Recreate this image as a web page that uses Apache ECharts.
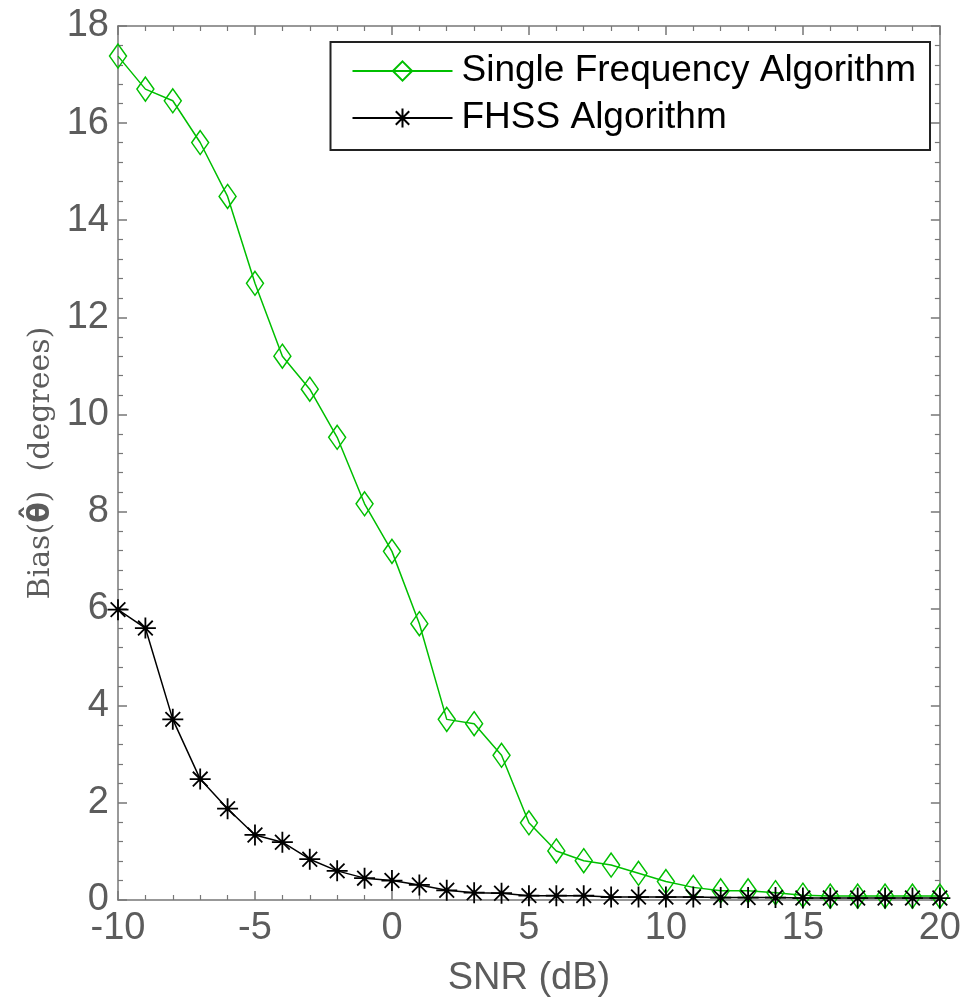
<!DOCTYPE html>
<html>
<head>
<meta charset="utf-8">
<script src="https://cdn.jsdelivr.net/npm/echarts@6/dist/echarts.min.js"></script>
<style>html,body{margin:0;padding:0;background:#fff;}#c{width:964px;height:1003px;}</style>
</head>
<body>
<div id="c"></div>
<script>
const snr = [-10,-9,-8,-7,-6,-5,-4,-3,-2,-1,0,1,2,3,4,5,6,7,8,9,10,11,12,13,14,15,16,17,18,19,20];
const singleFreq = [17.38,16.7,16.46,15.6,14.49,12.7,11.2,10.52,9.53,8.16,7.18,5.69,3.72,3.63,2.98,1.59,1.01,0.81,0.72,0.55,0.38,0.26,0.19,0.19,0.15,0.10,0.08,0.08,0.08,0.08,0.08];
const fhss = [5.98,5.6,3.72,2.49,1.88,1.34,1.19,0.84,0.6,0.45,0.4,0.31,0.2,0.15,0.14,0.09,0.09,0.09,0.06,0.06,0.06,0.06,0.05,0.05,0.05,0.04,0.04,0.04,0.04,0.04,0.04];
const seriesNames = ['Single Frequency Algorithm','FHSS Algorithm'];
const xTicks = {min:-10, max:20, interval:5};
const yTicks = {min:0, max:18, interval:2};

const green = '#00bf00';
const axisGrey = '#777777';
const textGrey = '#5c5c5c';
const star = 'path://M0,-10L0,10M-10,0L10,0M-7,-7L7,7M-7,7L7,-7M-1.5,-1.5L1.5,-1.5L1.5,1.5L-1.5,1.5Z';

const chart = echarts.init(document.getElementById('c'), null, {renderer:'canvas'});
function axisCommon() {
  return {
    axisLine:{show:true, onZero:false, lineStyle:{color:axisGrey, width:1.5}},
    axisTick:{show:true, inside:true, length:9, lineStyle:{color:axisGrey, width:1.5}},
    minorTick:{show:true, splitNumber:5, length:5, lineStyle:{color:axisGrey, width:1.2}},
    splitLine:{show:false}
  };
}
chart.setOption({
  animation:false,
  backgroundColor:'#ffffff',
  grid:{left:118, right:18, top:26, bottom:102},
  legend:{
    orient:'vertical', right:34, top:42,
    padding:[10,14,13,21],
    borderColor:'#222', borderWidth:2,
    itemWidth:100, itemHeight:24, itemGap:9,
    textStyle:{fontFamily:'Liberation Sans, Arial', fontSize:37, lineHeight:38, color:'#000', padding:[0,0,0,4]},
    data:seriesNames
  },
  xAxis:[
    Object.assign({type:'value', position:'bottom', min:xTicks.min, max:xTicks.max, interval:xTicks.interval,
      name:'SNR (dB)', nameLocation:'middle', nameGap:60,
      nameTextStyle:{fontFamily:'Liberation Sans, Arial', fontSize:38, color:textGrey},
      axisLabel:{fontFamily:'Liberation Sans, Arial', fontSize:38, color:textGrey, margin:10}}, axisCommon()),
    Object.assign({type:'value', position:'top', min:xTicks.min, max:xTicks.max, interval:xTicks.interval,
      axisLabel:{show:false}}, axisCommon())
  ],
  yAxis:[
    Object.assign({type:'value', position:'left', min:yTicks.min, max:yTicks.max, interval:yTicks.interval,
      name:'{a|Bias(}{b|θ̂}{a|)  (degrees)}', nameLocation:'middle', nameGap:62,
      nameTextStyle:{color:textGrey, rich:{
        a:{fontFamily:'DejaVu Serif', fontSize:30, color:textGrey},
        b:{fontFamily:'DejaVu Sans', fontSize:30, fontWeight:'bold', color:textGrey}
      }},
      axisLabel:{fontFamily:'Liberation Sans, Arial', fontSize:38, color:textGrey, margin:9}}, axisCommon()),
    Object.assign({type:'value', position:'right', min:yTicks.min, max:yTicks.max, interval:yTicks.interval,
      axisLabel:{show:false}}, axisCommon())
  ],
  series:[
    {
      name:seriesNames[0], type:'line',
      data:snr.map((x,i)=>[x, singleFreq[i]]),
      symbol:'diamond', symbolSize:[17,24],
      lineStyle:{color:green, width:1.5},
      itemStyle:{color:'rgba(255,255,255,0)', borderColor:green, borderWidth:1.5},
      z:2
    },
    {
      name:seriesNames[1], type:'line',
      data:snr.map((x,i)=>[x, fhss[i]]),
      symbol:star, symbolSize:[21,21],
      lineStyle:{color:'#000', width:1.5},
      itemStyle:{color:'#000', borderColor:'#000', borderWidth:1.8},
      z:3
    }
  ]
});
</script>
</body>
</html>
